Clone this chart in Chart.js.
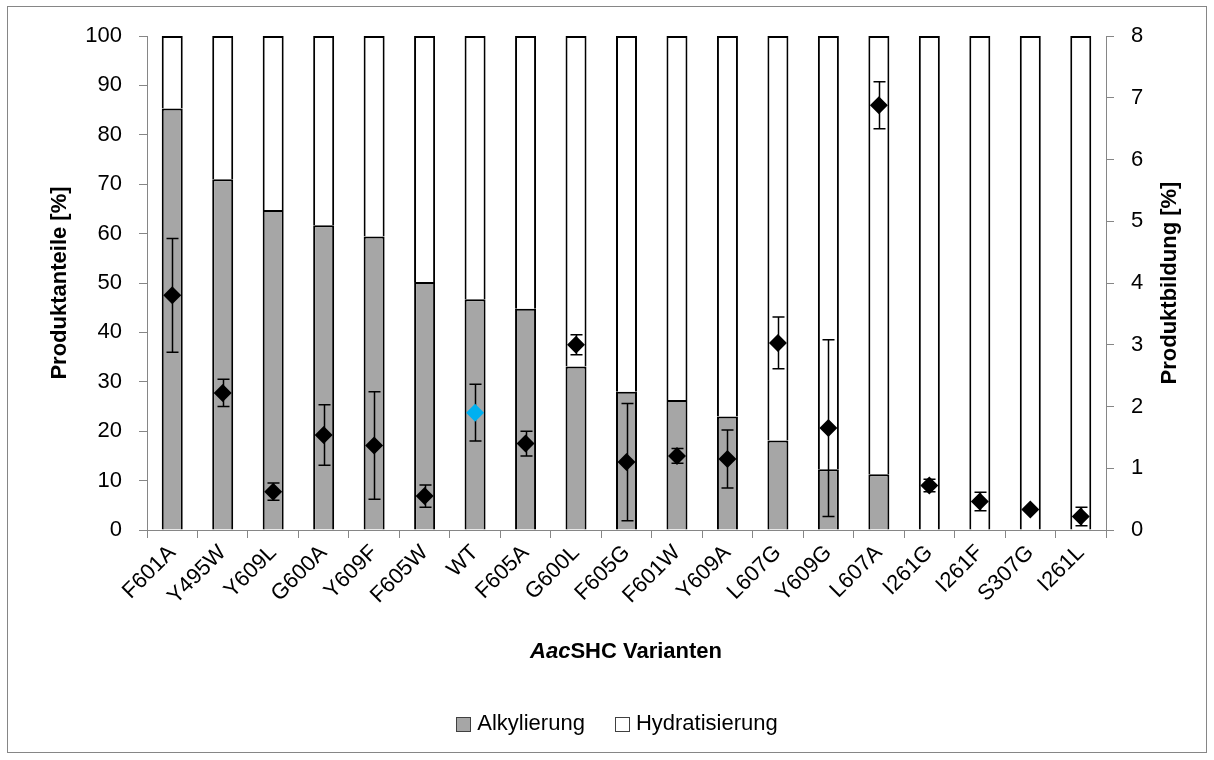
<!DOCTYPE html>
<html>
<head>
<meta charset="utf-8">
<script src="https://cdn.jsdelivr.net/npm/chart.js@4.4.1/dist/chart.umd.min.js"></script>
<style>
  html, body { margin: 0; padding: 0; background: #fff; }
  #wrap { width: 1214px; height: 760px; position: relative; }
</style>
</head>
<body>
<div id="wrap"><canvas id="c" width="1214" height="760"></canvas></div>
<script>
// AacSHC variants, sorted by alkylation share
const variants = ['F601A', 'Y495W', 'Y609L', 'G600A', 'Y609F', 'F605W', 'WT', 'F605A', 'G600L', 'F605G',
                  'F601W', 'Y609A', 'L607G', 'Y609G', 'L607A', 'I261G', 'I261F', 'S307G', 'I261L'];

// product shares [%] (left axis)
const alkylierung    = [85.3, 71.0, 64.8, 61.7, 59.4, 50.2, 46.7, 44.8, 33.1, 28.0,
                        26.3, 23.0, 18.1, 12.3, 11.3, 0, 0, 0, 0];
const hydratisierung = [14.7, 29.0, 35.2, 38.3, 40.6, 49.8, 53.3, 55.2, 66.9, 72.0,
                        73.7, 77.0, 81.9, 87.7, 88.7, 100, 100, 100, 100];

// total product formation [%] (right axis) with standard deviation
const produktbildung        = [3.80, 2.22, 0.62, 1.54, 1.37, 0.55, 1.90, 1.40, 3.00, 1.10,
                               1.20, 1.15, 3.03, 1.65, 6.88, 0.72, 0.46, 0.33, 0.22];
const produktbildungFehler  = [0.92, 0.22, 0.14, 0.49, 0.87, 0.18, 0.46, 0.20, 0.16, 0.95,
                               0.12, 0.47, 0.42, 1.43, 0.38, 0.10, 0.15, 0.02, 0.15];

const leftTicks = { min: 0, max: 100, step: 10 };
const rightTicks = { min: 0, max: 8, step: 1 };

const FONT = "'Liberation Sans', Arial, sans-serif";
const AXIS_GREY = '#868686';
const markerColors = variants.map(v => v === 'WT' ? '#00B0F0' : '#000000');

// white page with a thin grey frame
const frame = {
  id: 'frame',
  beforeDraw(chart) {
    const ctx = chart.ctx;
    ctx.save();
    ctx.fillStyle = '#ffffff';
    ctx.fillRect(0, 0, chart.width, chart.height);
    ctx.strokeStyle = AXIS_GREY;
    ctx.lineWidth = 1;
    ctx.strokeRect(7.5, 6.5, 1199, 746);
    ctx.restore();
  }
};

// vertical error bars with caps, drawn just before the diamond markers
const errorBars = {
  id: 'errorBars',
  beforeDatasetDraw(chart, args) {
    if (args.index !== 0) return;
    const ctx = chart.ctx;
    const meta = chart.getDatasetMeta(0);
    const y1 = chart.scales.y1;
    ctx.save();
    ctx.strokeStyle = '#000';
    ctx.lineWidth = 1.5;
    meta.data.forEach((pt, i) => {
      const v = produktbildung[i], e = produktbildungFehler[i];
      const yt = y1.getPixelForValue(v + e);
      const yb = y1.getPixelForValue(v - e);
      const x = Math.round(pt.x) + 0.5;
      ctx.beginPath();
      ctx.moveTo(x, yt); ctx.lineTo(x, yb);
      ctx.moveTo(x - 6, yt); ctx.lineTo(x + 6, yt);
      ctx.moveTo(x - 6, yb); ctx.lineTo(x + 6, yb);
      ctx.stroke();
    });
    ctx.restore();
  }
};

// axis titles and the legend
const annotations = {
  id: 'annotations',
  afterDraw(chart) {
    const ctx = chart.ctx;
    const area = chart.chartArea;
    const midY = (area.top + area.bottom) / 2;
    ctx.save();
    ctx.fillStyle = '#000';
    ctx.textBaseline = 'middle';
    ctx.textAlign = 'center';
    ctx.font = 'bold 22px ' + FONT;

    ctx.save();
    ctx.translate(60, midY);
    ctx.rotate(-Math.PI / 2);
    ctx.fillText('Produktanteile [%]', 0, 0);
    ctx.restore();

    ctx.save();
    ctx.translate(1170, midY);
    ctx.rotate(-Math.PI / 2);
    ctx.fillText('Produktbildung [%]', 0, 0);
    ctx.restore();

    // x title: italic "Aac" followed by "SHC Varianten"
    const p1 = 'Aac', p2 = 'SHC Varianten';
    ctx.textAlign = 'left';
    ctx.font = 'italic bold 22px ' + FONT;
    const w1 = ctx.measureText(p1).width;
    ctx.font = 'bold 22px ' + FONT;
    const w2 = ctx.measureText(p2).width;
    const x0 = 626 - (w1 + w2) / 2;
    ctx.font = 'italic bold 22px ' + FONT;
    ctx.fillText(p1, x0, 652);
    ctx.font = 'bold 22px ' + FONT;
    ctx.fillText(p2, x0 + w1, 652);

    // legend
    const items = [
      { text: chart.data.datasets[1].label, fill: '#A6A6A6' },
      { text: chart.data.datasets[2].label, fill: '#FFFFFF' }
    ];
    ctx.font = '22px ' + FONT;
    const box = 14, gap = 7, spacing = 30;
    const widths = items.map(it => ctx.measureText(it.text).width);
    const total = widths.reduce((a, w) => a + box + gap + w, 0) + spacing * (items.length - 1);
    let x = 617 - total / 2;
    const ly = 724;
    items.forEach((it, i) => {
      ctx.fillStyle = it.fill;
      ctx.fillRect(x, ly - box / 2, box, box);
      ctx.strokeStyle = '#404040';
      ctx.lineWidth = 1;
      ctx.strokeRect(Math.round(x) + 0.5, Math.round(ly - box / 2) + 0.5, box, box);
      ctx.fillStyle = '#000';
      ctx.fillText(it.text, x + box + gap, ly);
      x += box + gap + widths[i] + spacing;
    });
    ctx.restore();
  }
};

const barCommon = {
  borderColor: '#000000',
  borderWidth: 2,
  yAxisID: 'y',
  stack: 'anteile',
  order: 1,
  barPercentage: 0.416,
  categoryPercentage: 1.0
};

new Chart(document.getElementById('c'), {
  type: 'bar',
  data: {
    labels: variants,
    datasets: [
      {
        type: 'line',
        label: 'Produktbildung',
        data: produktbildung,
        yAxisID: 'y1',
        showLine: false,
        pointStyle: 'rectRot',
        pointRadius: 9,
        pointHoverRadius: 9,
        pointBackgroundColor: markerColors,
        pointBorderColor: markerColors,
        pointBorderWidth: 0,
        order: 0
      },
      Object.assign({ label: 'Alkylierung', data: alkylierung, backgroundColor: '#A6A6A6' }, barCommon),
      Object.assign({ label: 'Hydratisierung', data: hydratisierung, backgroundColor: '#FFFFFF' }, barCommon)
    ]
  },
  options: {
    responsive: false,
    animation: false,
    devicePixelRatio: 1,
    layout: { padding: { top: 36, bottom: 130, left: 0, right: 0 } },
    plugins: {
      legend: { display: false },
      tooltip: { enabled: false }
    },
    scales: {
      x: {
        stacked: true,
        offset: true,
        grid: { offset: true, drawOnChartArea: false, drawTicks: true, tickLength: 8, color: AXIS_GREY, lineWidth: 1 },
        border: { color: AXIS_GREY, width: 1 },
        ticks: { font: { family: FONT, size: 22 }, color: '#000', minRotation: 45, maxRotation: 45, autoSkip: false, padding: 2 },
        afterFit(scale) { scale.height = 100; }
      },
      y: {
        position: 'left',
        stacked: true,
        min: leftTicks.min,
        max: leftTicks.max,
        ticks: { stepSize: leftTicks.step, font: { family: FONT, size: 22 }, color: '#000', padding: 17 },
        grid: { drawOnChartArea: false, drawTicks: true, tickLength: 8, color: AXIS_GREY },
        border: { color: AXIS_GREY, width: 1 },
        afterFit(scale) { scale.width = 147; }
      },
      y1: {
        position: 'right',
        stacked: false,
        min: rightTicks.min,
        max: rightTicks.max,
        ticks: { stepSize: rightTicks.step, font: { family: FONT, size: 22 }, color: '#000', padding: 17 },
        grid: { drawOnChartArea: false, drawTicks: true, tickLength: 8, color: AXIS_GREY },
        border: { color: AXIS_GREY, width: 1 },
        afterFit(scale) { scale.width = 108; }
      }
    }
  },
  plugins: [frame, errorBars, annotations]
});
</script>
</body>
</html>
